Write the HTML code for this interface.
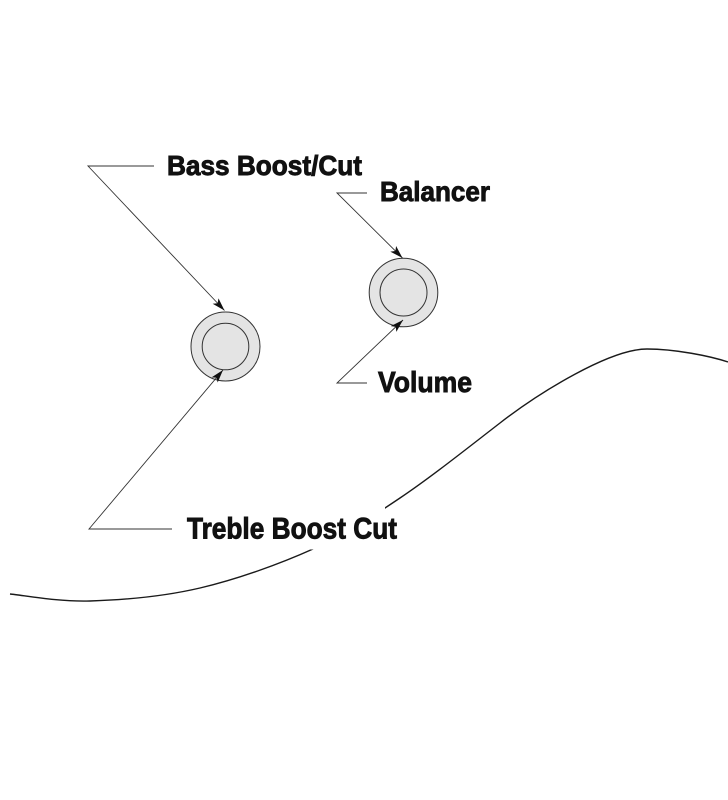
<!DOCTYPE html>
<html>
<head>
<meta charset="utf-8">
<style>
  html, body { margin: 0; padding: 0; background: #ffffff; }
  svg { display: block; }
  text { font-family: "Liberation Sans", "DejaVu Sans", sans-serif; font-weight: bold; fill: #111; stroke: #111; stroke-width: 0.9; }
</style>
</head>
<body>
<svg width="728" height="800" viewBox="0 0 728 800" xmlns="http://www.w3.org/2000/svg">
  <defs>
    <marker id="arr" viewBox="0 0 13 8" refX="13" refY="4" markerWidth="13" markerHeight="8" markerUnits="userSpaceOnUse" orient="auto">
      <path d="M0,0 L13,4 L0,8 L3,4 Z" fill="#111"/>
    </marker>
  </defs>
  <rect width="728" height="800" fill="#ffffff"/>

  <!-- body curve -->
  <path d="M10,594 C23.3,595.2 58.3,602 90,601 C121.7,600 162.8,596.7 200,588 C237.2,579.3 279.7,564 313,549 C346.3,534 368.8,519 400,498 C431.2,477 466.7,448.7 500,423 C540,392 610,349 647,349 C675,349 710,356 728,362"
        fill="none" stroke="#1a1a1a" stroke-width="1.4"/>
  <!-- gap behind label -->
  <rect x="180" y="505" width="205" height="44.5" fill="#ffffff"/>

  <!-- knobs -->
  <circle cx="225.5" cy="346.5" r="34.5" fill="#e4e4e4" stroke="#333" stroke-width="1"/>
  <circle cx="225.5" cy="346.5" r="23.3" fill="#e4e4e4" stroke="#333" stroke-width="1"/>
  <circle cx="403.5" cy="292.5" r="34.3" fill="#e4e4e4" stroke="#333" stroke-width="1"/>
  <circle cx="403.5" cy="292.5" r="23.5" fill="#e4e4e4" stroke="#333" stroke-width="1"/>

  <!-- leaders -->
  <g fill="none" stroke="#333" stroke-width="0.9">
    <polyline points="154,166 88,166 224.5,310.5" marker-end="url(#arr)"/>
    <polyline points="172,529 89,529 223,370" marker-end="url(#arr)"/>
    <polyline points="367,193 337,193 402.5,258" marker-end="url(#arr)"/>
    <polyline points="367,383 337,383 403,320" marker-end="url(#arr)"/>
  </g>

  <!-- labels -->
  <text x="167" y="175" font-size="28" textLength="195" lengthAdjust="spacingAndGlyphs">Bass Boost/Cut</text>
  <text x="380" y="201" font-size="28" textLength="110" lengthAdjust="spacingAndGlyphs">Balancer</text>
  <text x="378" y="392" font-size="29" textLength="94" lengthAdjust="spacingAndGlyphs">Volume</text>
  <text x="187" y="538.5" font-size="29.5" textLength="210" lengthAdjust="spacingAndGlyphs">Treble Boost Cut</text>
</svg>
</body>
</html>
